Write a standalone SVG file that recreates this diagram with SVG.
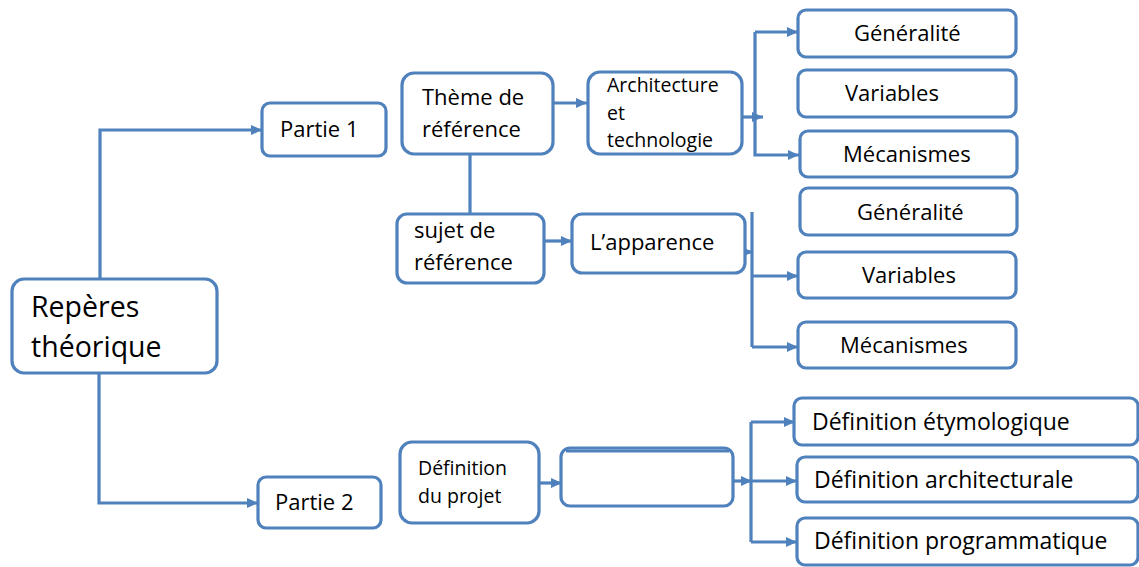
<svg xmlns="http://www.w3.org/2000/svg" width="1139" height="567" viewBox="0 0 1139 567">
<defs>
<style>
.box{fill:#fff;stroke:#4f81bd;stroke-width:3.2}
.c{fill:none;stroke:#4f81bd;stroke-width:3.2}
text{font-family:"Open Sans","Liberation Sans",Arial,sans-serif;fill:#000;font-size:22px}
.s{font-size:19.5px}
.big{font-size:28.5px}
.d{font-size:23px}
</style>
<marker id="a" markerUnits="userSpaceOnUse" markerWidth="12" markerHeight="12" viewBox="0 0 12 12" refX="11" refY="6" orient="auto">
<path d="M0,1 L11,6 L0,11 Z" fill="#4f81bd"/>
</marker>
</defs>
<rect width="1139" height="567" fill="#fff"/>
<g id="connectors">
<path class="c" d="M100,280 V130 H262" marker-end="url(#a)"/>
<path class="c" d="M99,373 V503 H258" marker-end="url(#a)"/>
<path class="c" d="M543,103 H587" marker-end="url(#a)"/>
<path class="c" d="M470,154 V213"/>
<path class="c" d="M544,241 H572" marker-end="url(#a)"/>
<path class="c" d="M737,117 H763" marker-end="url(#a)"/>
<path class="c" d="M755,32 H798" marker-end="url(#a)"/>
<path class="c" d="M755,32 V155 H799" marker-end="url(#a)"/>
<path class="c" d="M727,252 H753" marker-end="url(#a)"/>
<path class="c" d="M752,212 V347"/>
<path class="c" d="M752,276 H798" marker-end="url(#a)"/>
<path class="c" d="M752,347 H798" marker-end="url(#a)"/>
<path class="c" d="M539,483 H562" marker-end="url(#a)"/>
<path class="c" d="M734,481 H752" marker-end="url(#a)"/>
<path class="c" d="M751,422 V542"/>
<path class="c" d="M751,422 H795" marker-end="url(#a)"/>
<path class="c" d="M751,481 H797" marker-end="url(#a)"/>
<path class="c" d="M751,542 H797" marker-end="url(#a)"/>
</g>
<g id="reperes"><rect class="box" x="12" y="279" width="205" height="94" rx="12"/><text class="big" x="31" y="317">Repères</text><text class="big" x="31" y="357">théorique</text></g>
<g id="partie1"><rect class="box" x="262" y="103" width="124" height="53" rx="8"/><text x="280" y="137">Partie 1</text></g>
<g id="partie2"><rect class="box" x="258" y="477" width="123" height="51" rx="8"/><text x="275" y="510">Partie 2</text></g>
<g id="theme"><rect class="box" x="402" y="73" width="151" height="81" rx="12"/><text x="422" y="105">Thème de</text><text x="422" y="137">référence</text></g>
<g id="archi"><rect class="box" x="588" y="72" width="154" height="82" rx="12"/><text class="s" x="607" y="92">Architecture</text><text class="s" x="607" y="120">et</text><text class="s" x="607" y="147">technologie</text></g>
<g id="sujet"><rect class="box" x="397" y="214" width="147" height="69" rx="10"/><text x="414" y="238">sujet de</text><text x="414" y="270">référence</text></g>
<g id="apparence"><rect class="box" x="572" y="214" width="173" height="59" rx="10"/><text x="590" y="250">L’apparence</text></g>
<g id="gen1"><rect class="box" x="798" y="10" width="218" height="47" rx="8"/><text x="854" y="41">Généralité</text></g>
<g id="var1"><rect class="box" x="798" y="70" width="218" height="47" rx="8"/><text x="845" y="101">Variables</text></g>
<g id="meca1"><rect class="box" x="800" y="131" width="217" height="46" rx="8"/><text x="843" y="162">Mécanismes</text></g>
<g id="gen2"><rect class="box" x="800" y="188" width="217" height="47" rx="8"/><text x="857" y="220">Généralité</text></g>
<g id="var2"><rect class="box" x="798" y="252" width="218" height="46" rx="8"/><text x="862" y="283">Variables</text></g>
<g id="meca2"><rect class="box" x="798" y="322" width="218" height="46" rx="8"/><text x="840" y="353">Mécanismes</text></g>
<g id="defprojet"><rect class="box" x="400" y="442" width="139" height="81" rx="12"/><text class="s" x="418" y="475">Définition</text><text class="s" x="418" y="503">du projet</text></g>
<g id="vide"><rect class="box" x="561" y="448" width="172" height="58" rx="9"/><path class="c" d="M566,451 H729"/></g>
<g id="etym"><rect class="box" x="794" y="398" width="344" height="47" rx="8"/><text class="d" x="812" y="430">Définition étymologique</text></g>
<g id="archit"><rect class="box" x="797" y="457" width="341" height="45" rx="8"/><text class="d" x="814" y="488">Définition architecturale</text></g>
<g id="prog"><rect class="box" x="797" y="518" width="341" height="47" rx="8"/><text class="d" x="814" y="549">Définition programmatique</text></g>
</svg>
